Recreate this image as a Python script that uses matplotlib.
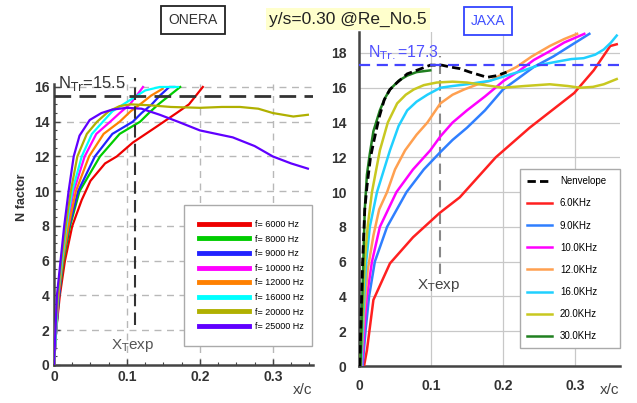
import numpy as np
import matplotlib
matplotlib.use('Agg')
import matplotlib.pyplot as plt
from matplotlib.ticker import MultipleLocator

plt.rcParams['font.family'] = ['Liberation Sans', 'DejaVu Sans']

# ONERA curves (left panel): x/c, N factor
onera_labels = ['f= 6000 Hz', 'f= 8000 Hz', 'f= 9000 Hz', 'f= 10000 Hz',
                'f= 12000 Hz', 'f= 16000 Hz', 'f= 20000 Hz', 'f= 25000 Hz']
onera_colors = ['#ee0000', '#00cc00', '#2222ff', '#ff00ff',
                '#ff8000', '#00ffff', '#b0b000', '#6000ff']

onera_x = [
    [0, 0.003, 0.008, 0.015, 0.025, 0.038, 0.05, 0.07, 0.086, 0.108, 0.14, 0.168, 0.185, 0.204],
    [0, 0.003, 0.007, 0.013, 0.022, 0.035, 0.063, 0.09, 0.118, 0.13, 0.143, 0.158, 0.173],
    [0, 0.003, 0.007, 0.012, 0.021, 0.033, 0.056, 0.08, 0.108, 0.12, 0.134, 0.145, 0.158, 0.165],
    [0, 0.003, 0.006, 0.011, 0.018, 0.027, 0.042, 0.058, 0.077, 0.09, 0.104, 0.115, 0.122],
    [0, 0.003, 0.006, 0.012, 0.02, 0.03, 0.048, 0.068, 0.09, 0.105, 0.118, 0.133, 0.149],
    [0, 0.003, 0.005, 0.011, 0.017, 0.025, 0.038, 0.052, 0.067, 0.08, 0.095, 0.11, 0.125, 0.145, 0.17],
    [0, 0.002, 0.005, 0.01, 0.016, 0.023, 0.032, 0.045, 0.059, 0.075, 0.09, 0.105, 0.13, 0.16,
     0.2, 0.23, 0.255, 0.28, 0.3, 0.328, 0.348],
    [0, 0.002, 0.004, 0.009, 0.014, 0.02, 0.027, 0.035, 0.049, 0.065, 0.08, 0.1, 0.12, 0.145,
     0.17, 0.2, 0.245, 0.275, 0.3, 0.325, 0.348],
]
onera_n = [
    [0, 2, 4, 6, 8, 9.5, 10.6, 11.6, 12.0, 12.8, 13.7, 14.5, 15.0, 16.0],
    [0, 2, 4, 6, 8, 10, 12, 13.3, 14, 14.5, 15, 15.5, 16.0],
    [0, 2, 4, 6, 8, 10, 12, 13.3, 14, 14.5, 15, 15.5, 16.0, 16.0],
    [0, 2, 4, 6, 8, 10, 12, 13.3, 14, 14.5, 15, 15.6, 16.0],
    [0, 2, 4, 6, 8, 10, 12, 13.3, 14, 14.6, 15, 15.5, 15.9],
    [0, 2, 4, 6, 8, 10, 12, 13.3, 14, 14.6, 15, 15.4, 15.8, 16.0, 16.0],
    [0, 2, 4, 6, 8, 10, 12, 13.3, 14, 14.6, 14.9, 15.0, 14.95, 14.85,
     14.8, 14.85, 14.85, 14.75, 14.5, 14.3, 14.4],
    [0, 2, 4, 6, 8, 10, 12, 13.2, 14.1, 14.5, 14.7, 14.8, 14.75, 14.4,
     14.0, 13.5, 13.1, 12.6, 12.0, 11.6, 11.3],
]

# JAXA curves (right panel)
jaxa_labels = ['6.0KHz', '9.0KHz', '10.0KHz', '12.0KHz', '16.0KHz', '20.0KHz', '30.0KHz']
jaxa_colors = ['#ff2020', '#2f7fff', '#ff00ff', '#ffa050', '#20d0ff', '#c8c820', '#208020']

jaxa_x = [
    [0.007, 0.011, 0.02, 0.043, 0.075, 0.112, 0.14, 0.19, 0.237, 0.299, 0.326, 0.349, 0.358],
    [0.005, 0.009, 0.014, 0.022, 0.039, 0.066, 0.09, 0.113, 0.13, 0.15, 0.175, 0.2, 0.22,
     0.243, 0.27, 0.293, 0.32],
    [0.004, 0.008, 0.011, 0.018, 0.029, 0.052, 0.075, 0.099, 0.113, 0.13, 0.15, 0.175, 0.201,
     0.22, 0.243, 0.265, 0.285, 0.313],
    [0.003, 0.007, 0.012, 0.02, 0.028, 0.039, 0.05, 0.064, 0.08, 0.095, 0.113, 0.13, 0.146,
     0.165, 0.182, 0.2, 0.219, 0.24, 0.265, 0.285, 0.303],
    [0.003, 0.006, 0.01, 0.015, 0.025, 0.043, 0.055, 0.067, 0.08, 0.095, 0.113, 0.13, 0.15,
     0.182, 0.205, 0.229, 0.25, 0.275, 0.295, 0.312, 0.328, 0.34, 0.35, 0.358],
    [0.002, 0.005, 0.008, 0.012, 0.018, 0.029, 0.04, 0.053, 0.065, 0.076, 0.09, 0.108, 0.13,
     0.15, 0.175, 0.2, 0.23, 0.265, 0.29, 0.307, 0.325, 0.34, 0.358],
    [0.002, 0.004, 0.006, 0.008, 0.011, 0.015, 0.02, 0.029, 0.036, 0.043, 0.055, 0.067, 0.08, 0.099],
]
jaxa_n = [
    [0, 0.9, 3.8, 5.9, 7.4, 8.8, 9.7, 12.0, 13.7, 15.7, 17.0, 18.4, 18.5],
    [0, 2, 4, 6, 8, 10, 11.3, 12.3, 13.0, 13.7, 14.7, 15.9, 16.5, 17.2, 17.8, 18.4, 19.1],
    [0, 2.5, 4, 6, 8, 10, 11.3, 12.4, 13.2, 14.0, 14.7, 15.5, 16.4, 16.9, 17.6, 18.1, 18.6, 19.1],
    [0, 3, 5.5, 7.5, 9, 10, 11.3, 12.4, 13.3, 14.0, 15.1, 15.6, 15.9, 16.2, 16.4, 16.8, 17.2,
     17.8, 18.4, 18.8, 19.1],
    [0, 3, 6, 8, 10, 12.4, 13.8, 14.7, 15.2, 15.6, 16.0, 16.1, 16.2, 16.4, 16.7, 17.0, 17.3,
     17.5, 17.65, 17.7, 17.9, 18.2, 18.6, 19.0],
    [0, 3, 6, 8, 10, 12.4, 14, 15.1, 15.6, 15.9, 16.15, 16.3, 16.35, 16.3, 16.15, 16.0, 16.1,
     16.2, 16.1, 16.0, 16.05, 16.2, 16.5],
    [0, 3, 6, 9, 11, 12.2, 13.5, 14.7, 15.4, 15.9, 16.4, 16.7, 16.9, 17.0],
]

env_x = [0.001, 0.003, 0.005, 0.008, 0.011, 0.016, 0.021, 0.028, 0.035, 0.043, 0.053, 0.067,
         0.08, 0.099, 0.115, 0.126, 0.14, 0.154, 0.178, 0.192, 0.205]
env_n = [0, 3, 6, 9, 10.3, 12, 13, 14.3, 15.3, 15.9, 16.3, 16.8, 17.0, 17.3, 17.3, 17.2,
         17.1, 16.9, 16.6, 16.7, 16.9]

onera_ntr = 15.5
jaxa_ntr = 17.3
xt_exp = 0.111

fig = plt.figure(figsize=(6.37, 4.03), dpi=100)

# ---------------- left panel (ONERA) ----------------
ax1 = fig.add_axes([54 / 637, 38 / 403, 259 / 637, 281.5 / 403])
ax1.set_xlim(0, 0.355)
ax1.set_ylim(0, 16.2)
for sp in ['top', 'right']:
    ax1.spines[sp].set_visible(False)
for sp in ['left', 'bottom']:
    ax1.spines[sp].set_linewidth(1.8)
    ax1.spines[sp].set_color('#444444')
ax1.set_xticks([0, 0.1, 0.2, 0.3])
ax1.set_xticklabels(['0', '0.1', '0.2', '0.3'])
ax1.set_yticks(np.arange(0, 17, 2))
ax1.xaxis.set_minor_locator(MultipleLocator(0.025))
ax1.yaxis.set_minor_locator(MultipleLocator(0.5))
ax1.tick_params(which='both', direction='in', colors='#444444', labelsize=10)
ax1.tick_params(which='major', length=4, width=1)
ax1.tick_params(which='minor', length=2, width=0.8)
for lab in ax1.get_xticklabels() + ax1.get_yticklabels():
    lab.set_fontweight('bold')
    lab.set_color('#333333')
for gx in [0.1, 0.2, 0.3]:
    ax1.axvline(gx, color='#b8b8b8', lw=1, ls=(0, (5, 4)), zorder=0)
for gy in np.arange(2, 17, 2):
    ax1.axhline(gy, color='#b8b8b8', lw=1, ls=(0, (5, 4)), zorder=0)

for xs, ns, c, lab in zip(onera_x, onera_n, onera_colors, onera_labels):
    ax1.plot(xs, ns, color=c, lw=1.6, label=lab, zorder=3)

ax1.axhline(onera_ntr, color='#333333', lw=2, ls=(0, (6, 3)), zorder=4)
ax1.plot([xt_exp, xt_exp], [2.3, 16.5], color='#333333', lw=1.5, ls=(0, (6, 3)),
         zorder=4, clip_on=False)
ax1.text(0.006, 16.2, r'N$_{\mathrm{Tr}}$=15.5', fontsize=12, color='#333333',
         va='center', ha='left', clip_on=False)
ax1.text(0.108, 1.15, r'X$_{\mathrm{T}}$exp', fontsize=11, color='#555555',
         va='center', ha='center')
fig.text(22 / 637, 1 - 197 / 403, 'N factor', rotation=90, fontsize=9, fontweight='bold',
         color='#333333', va='center', ha='center')
fig.text(303 / 637, 1 - 390 / 403, 'x/c', fontsize=11, color='#444444',
         ha='center', va='center')

leg1 = ax1.legend(loc='lower left', bbox_to_anchor=(0.486, 0.053, 0.529, 0.508),
                  mode='expand', fontsize=6.5, handlelength=5.6, handletextpad=0.6,
                  labelspacing=0.62, borderpad=1.6, fancybox=False, framealpha=1)
leg1.get_frame().set_edgecolor('#aaaaaa')
leg1.get_frame().set_linewidth(1)
for h in leg1.get_lines():
    h.set_linewidth(3.5)

# ---------------- right panel (JAXA) ----------------
ax2 = fig.add_axes([359 / 637, 37 / 403, 260.6 / 637, 333.9 / 403])
ax2.set_xlim(0, 0.362)
ax2.set_ylim(0, 19.2)
for sp in ['top', 'right']:
    ax2.spines[sp].set_visible(False)
for sp in ['left', 'bottom']:
    ax2.spines[sp].set_linewidth(1.8)
    ax2.spines[sp].set_color('#444444')
ax2.set_xticks([0, 0.1, 0.2, 0.3])
ax2.set_xticklabels(['0', '0.1', '0.2', '0.3'])
ax2.set_yticks(np.arange(0, 19, 2))
ax2.tick_params(length=0, labelsize=10, pad=9)
for lab in ax2.get_xticklabels() + ax2.get_yticklabels():
    lab.set_fontweight('bold')
    lab.set_color('#333333')
ax2.grid(True, color='#c8c8c8', lw=0.9)
ax2.set_axisbelow(True)

ax2.plot(env_x, env_n, color='black', lw=2, ls=(0, (3, 1.5)), label='Nenvelope', zorder=4)
for xs, ns, c, lab in zip(jaxa_x, jaxa_n, jaxa_colors, jaxa_labels):
    ax2.plot(xs, ns, color=c, lw=1.8, label=lab, zorder=3)

ax2.axhline(jaxa_ntr, color='#4444ff', lw=1.6, ls=(0, (5, 3)), zorder=5)
ax2.plot([0.112, 0.112], [5.3, 17.8], color='#888888', lw=1.5, ls=(0, (5, 3)), zorder=2)
ax2.text(0.013, 18.0, r'N$_{\mathrm{Tr.}}$=17.3', fontsize=11.5, color='#5050ff',
         va='center', ha='left')
ax2.text(0.111, 4.65, r'X$_{\mathrm{T}}$exp', fontsize=11, color='#444444',
         va='center', ha='center')
fig.text(610 / 637, 1 - 390 / 403, 'x/c', fontsize=11, color='#444444',
         ha='center', va='center')

leg2 = ax2.legend(loc='lower left', bbox_to_anchor=(0.599, 0.039, 0.421, 0.503),
                  mode='expand', fontsize=7, handlelength=2.6, handletextpad=0.8,
                  labelspacing=1.25, borderpad=0.7, fancybox=False, framealpha=1)
leg2.get_frame().set_edgecolor('#aaaaaa')
leg2.get_frame().set_linewidth(1)

# ---------------- header texts ----------------
fig.text(193 / 637, 1 - 20 / 403, 'ONERA', fontsize=10, color='#333333',
         ha='center', va='center',
         bbox=dict(boxstyle='square,pad=0.5', fc='white', ec='#222222', lw=1.3))
fig.text(348 / 637, 1 - 19 / 403, 'y/s=0.30 @Re_No.5', fontsize=12.5, color='#222222',
         ha='center', va='center',
         bbox=dict(boxstyle='square,pad=0.2', fc='#ffffcc', ec='none'))
fig.text(488 / 637, 1 - 21 / 403, 'JAXA', fontsize=10, color='#4050ff',
         ha='center', va='center',
         bbox=dict(boxstyle='square,pad=0.5', fc='white', ec='#3344ff', lw=1.3))

fig.savefig('out.png', dpi=100)
